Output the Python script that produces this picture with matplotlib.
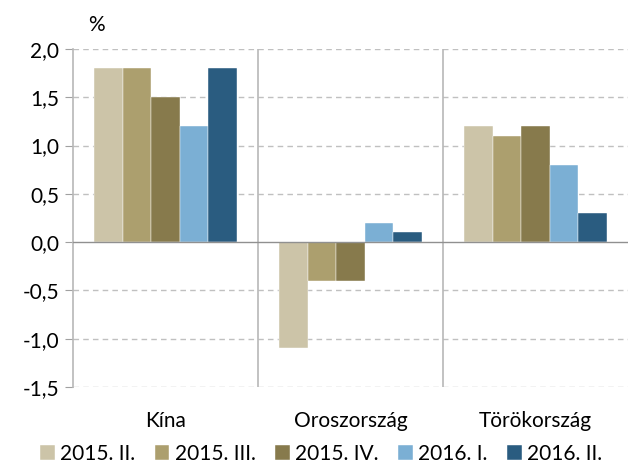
import matplotlib.pyplot as plt
import numpy as np

plt.rcParams['font.family'] = ['Lato', 'DejaVu Sans']

countries = ["Kína", "Oroszország", "Törökország"]
series_names = ["2015. II.", "2015. III.", "2015. IV.", "2016. I.", "2016. II."]
values = [
    [1.8, -1.1, 1.2],   # 2015. II.
    [1.8, -0.4, 1.1],   # 2015. III.
    [1.5, -0.4, 1.2],   # 2015. IV.
    [1.2, 0.2, 0.8],    # 2016. I.
    [1.8, 0.1, 0.3],    # 2016. II.
]
colors = ["#ccc4a8", "#ac9f6e", "#877a4c", "#7bafd4", "#2a5c80"]
yticks = [-1.5, -1.0, -0.5, 0.0, 0.5, 1.0, 1.5, 2.0]

fig = plt.figure(figsize=(6.28, 4.7), dpi=100)
ax = fig.add_axes([73/628, 83/470, 555/628, 338/470])

x = np.arange(len(countries))
w = 0.154
for i, (name, vals) in enumerate(zip(series_names, values)):
    ax.bar(x + (i - 2) * w, vals, width=w, color=colors[i], label=name,
           edgecolor="white", linewidth=0.3, zorder=3)

ax.set_xlim(-0.5, 2.5)
ax.set_ylim(-1.5, 2.0)
ax.set_yticks(yticks)
ax.set_yticklabels([f"{t:.1f}".replace(".", ",") for t in yticks], fontsize=15)
ax.set_xticks(x)
ax.set_xticklabels(countries, fontsize=15)
ax.tick_params(axis="x", length=0, pad=17)
ax.tick_params(axis="y", length=6, color="#a0a0a0", pad=4)

for t in yticks:
    if t != 0:
        ax.axhline(t, color="#c0c0c0", linestyle=(0, (4, 3)), linewidth=1, zorder=1)
ax.axhline(0, color="#909090", linewidth=1, zorder=4)
for b in [0.5, 1.5]:
    ax.axvline(b, color="#b8b8b8", linewidth=1.2, zorder=2)

for s in ["top", "right", "bottom"]:
    ax.spines[s].set_visible(False)
ax.spines["left"].set_color("#b8b8b8")
ax.spines["left"].set_linewidth(1.2)

fig.text(88/628, 1 - 25/470, "%", fontsize=15, ha="left", va="center")

ax.legend(loc="upper center", bbox_to_anchor=(0.447, -0.125), ncol=5, frameon=False,
          fontsize=15, handlelength=0.7, handleheight=0.7, handletextpad=0.25,
          columnspacing=0.95, borderaxespad=0.3)

fig.savefig("out.png", dpi=100)
